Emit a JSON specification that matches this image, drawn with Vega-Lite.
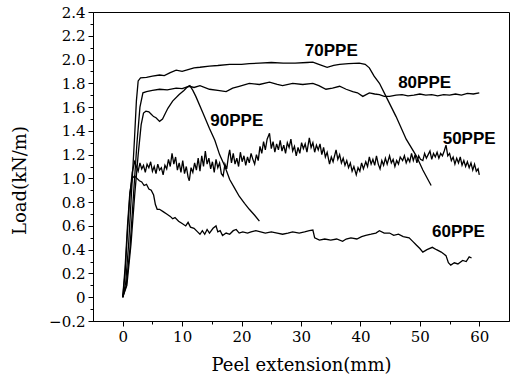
{
  "$schema": "https://vega.github.io/schema/vega-lite/v6.json",
  "width": 416,
  "height": 309,
  "autosize": {"type": "none"},
  "padding": {"left": 93, "top": 12, "right": 4, "bottom": 57},
  "background": "white",
  "config": {
    "view": {"stroke": "black", "strokeWidth": 1},
    "axis": {"grid": false, "domainColor": "black", "tickColor": "black", "labelColor": "black", "titleColor": "black", "labelFont": "DejaVu Serif", "titleFont": "DejaVu Serif", "labelFontSize": 15, "titleFontSize": 18, "titleFontWeight": "normal"}
  },
  "datasets": {
    "curves": [
      {"s":"50PPE","x":0,"y":0},{"s":"50PPE","x":0.4,"y":0.2},{"s":"50PPE","x":0.8,"y":0.55},{"s":"50PPE","x":1.2,"y":0.85},{"s":"50PPE","x":1.6,"y":1.05},{"s":"50PPE","x":2.0,"y":1.14},
      {"s":"50PPE","x":2.3,"y":1.10},{"s":"50PPE","x":2.6,"y":1.06},{"s":"50PPE","x":2.9,"y":1.13},{"s":"50PPE","x":3.2,"y":1.08},{"s":"50PPE","x":3.5,"y":1.11},{"s":"50PPE","x":3.8,"y":1.05},{"s":"50PPE","x":4.1,"y":1.12},{"s":"50PPE","x":4.4,"y":1.09},{"s":"50PPE","x":4.7,"y":1.14},{"s":"50PPE","x":5.0,"y":1.06},{"s":"50PPE","x":5.3,"y":1.10},{"s":"50PPE","x":5.6,"y":1.04},{"s":"50PPE","x":5.9,"y":1.12},{"s":"50PPE","x":6.2,"y":1.07},{"s":"50PPE","x":6.5,"y":1.09},{"s":"50PPE","x":6.8,"y":1.03},{"s":"50PPE","x":7.1,"y":1.11},{"s":"50PPE","x":7.4,"y":1.08},{"s":"50PPE","x":7.7,"y":1.16},{"s":"50PPE","x":8.0,"y":1.10},{"s":"50PPE","x":8.3,"y":1.21},{"s":"50PPE","x":8.6,"y":1.12},{"s":"50PPE","x":8.9,"y":1.18},{"s":"50PPE","x":9.2,"y":1.07},{"s":"50PPE","x":9.5,"y":1.13},{"s":"50PPE","x":9.8,"y":1.05},{"s":"50PPE","x":10.1,"y":1.15},{"s":"50PPE","x":10.4,"y":1.04},{"s":"50PPE","x":10.7,"y":1.10},{"s":"50PPE","x":11.0,"y":1.01},{"s":"50PPE","x":11.2,"y":0.98},{"s":"50PPE","x":11.5,"y":1.09},{"s":"50PPE","x":11.8,"y":1.05},{"s":"50PPE","x":12.1,"y":1.13},{"s":"50PPE","x":12.4,"y":1.07},{"s":"50PPE","x":12.7,"y":1.17},{"s":"50PPE","x":13.0,"y":1.06},{"s":"50PPE","x":13.3,"y":1.19},{"s":"50PPE","x":13.6,"y":1.10},{"s":"50PPE","x":13.9,"y":1.23},{"s":"50PPE","x":14.2,"y":1.12},{"s":"50PPE","x":14.5,"y":1.17},{"s":"50PPE","x":14.8,"y":1.08},{"s":"50PPE","x":15.1,"y":1.14},{"s":"50PPE","x":15.4,"y":1.05},{"s":"50PPE","x":15.7,"y":1.16},{"s":"50PPE","x":16.0,"y":1.09},{"s":"50PPE","x":16.3,"y":1.13},{"s":"50PPE","x":16.6,"y":1.04},{"s":"50PPE","x":16.9,"y":1.02},{"s":"50PPE","x":17.2,"y":1.12},{"s":"50PPE","x":17.5,"y":1.08},{"s":"50PPE","x":17.8,"y":1.19},{"s":"50PPE","x":18.0,"y":1.24},{"s":"50PPE","x":18.3,"y":1.13},{"s":"50PPE","x":18.6,"y":1.21},{"s":"50PPE","x":18.9,"y":1.12},{"s":"50PPE","x":19.2,"y":1.17},{"s":"50PPE","x":19.5,"y":1.10},{"s":"50PPE","x":19.8,"y":1.22},{"s":"50PPE","x":20.1,"y":1.14},{"s":"50PPE","x":20.4,"y":1.19},{"s":"50PPE","x":20.7,"y":1.11},{"s":"50PPE","x":21.0,"y":1.18},{"s":"50PPE","x":21.3,"y":1.13},{"s":"50PPE","x":21.6,"y":1.21},{"s":"50PPE","x":21.9,"y":1.16},{"s":"50PPE","x":22.2,"y":1.12},{"s":"50PPE","x":22.5,"y":1.20},{"s":"50PPE","x":22.8,"y":1.15},{"s":"50PPE","x":23.1,"y":1.27},{"s":"50PPE","x":23.4,"y":1.21},{"s":"50PPE","x":23.7,"y":1.31},{"s":"50PPE","x":24.0,"y":1.24},{"s":"50PPE","x":24.3,"y":1.33},{"s":"50PPE","x":24.7,"y":1.38},{"s":"50PPE","x":25.0,"y":1.25},{"s":"50PPE","x":25.3,"y":1.31},{"s":"50PPE","x":25.6,"y":1.22},{"s":"50PPE","x":25.9,"y":1.29},{"s":"50PPE","x":26.2,"y":1.24},{"s":"50PPE","x":26.5,"y":1.32},{"s":"50PPE","x":26.8,"y":1.23},{"s":"50PPE","x":27.1,"y":1.28},{"s":"50PPE","x":27.4,"y":1.21},{"s":"50PPE","x":27.7,"y":1.30},{"s":"50PPE","x":28.0,"y":1.26},{"s":"50PPE","x":28.3,"y":1.33},{"s":"50PPE","x":28.6,"y":1.23},{"s":"50PPE","x":28.9,"y":1.27},{"s":"50PPE","x":29.2,"y":1.19},{"s":"50PPE","x":29.5,"y":1.26},{"s":"50PPE","x":29.8,"y":1.21},{"s":"50PPE","x":30.1,"y":1.30},{"s":"50PPE","x":30.4,"y":1.25},{"s":"50PPE","x":30.7,"y":1.29},{"s":"50PPE","x":31.0,"y":1.22},{"s":"50PPE","x":31.4,"y":1.34},{"s":"50PPE","x":31.7,"y":1.26},{"s":"50PPE","x":32.0,"y":1.30},{"s":"50PPE","x":32.3,"y":1.22},{"s":"50PPE","x":32.6,"y":1.28},{"s":"50PPE","x":32.9,"y":1.24},{"s":"50PPE","x":33.2,"y":1.29},{"s":"50PPE","x":33.5,"y":1.20},{"s":"50PPE","x":33.8,"y":1.26},{"s":"50PPE","x":34.1,"y":1.18},{"s":"50PPE","x":34.4,"y":1.22},{"s":"50PPE","x":34.8,"y":1.12},{"s":"50PPE","x":35.1,"y":1.18},{"s":"50PPE","x":35.4,"y":1.14},{"s":"50PPE","x":35.9,"y":1.24},{"s":"50PPE","x":36.2,"y":1.16},{"s":"50PPE","x":36.5,"y":1.20},{"s":"50PPE","x":36.8,"y":1.13},{"s":"50PPE","x":37.1,"y":1.17},{"s":"50PPE","x":37.4,"y":1.11},{"s":"50PPE","x":37.7,"y":1.15},{"s":"50PPE","x":38.0,"y":1.09},{"s":"50PPE","x":38.3,"y":1.13},{"s":"50PPE","x":38.6,"y":1.06},{"s":"50PPE","x":38.9,"y":1.10},{"s":"50PPE","x":39.3,"y":1.03},{"s":"50PPE","x":39.6,"y":1.09},{"s":"50PPE","x":39.9,"y":1.06},{"s":"50PPE","x":40.2,"y":1.13},{"s":"50PPE","x":40.5,"y":1.08},{"s":"50PPE","x":40.9,"y":1.14},{"s":"50PPE","x":41.2,"y":1.10},{"s":"50PPE","x":41.5,"y":1.18},{"s":"50PPE","x":41.8,"y":1.12},{"s":"50PPE","x":42.1,"y":1.16},{"s":"50PPE","x":42.4,"y":1.11},{"s":"50PPE","x":42.7,"y":1.19},{"s":"50PPE","x":43.0,"y":1.12},{"s":"50PPE","x":43.3,"y":1.08},{"s":"50PPE","x":43.6,"y":1.15},{"s":"50PPE","x":43.9,"y":1.11},{"s":"50PPE","x":44.2,"y":1.17},{"s":"50PPE","x":44.5,"y":1.12},{"s":"50PPE","x":44.9,"y":1.19},{"s":"50PPE","x":45.2,"y":1.13},{"s":"50PPE","x":45.5,"y":1.16},{"s":"50PPE","x":45.8,"y":1.10},{"s":"50PPE","x":46.1,"y":1.15},{"s":"50PPE","x":46.4,"y":1.12},{"s":"50PPE","x":46.7,"y":1.18},{"s":"50PPE","x":47.1,"y":1.15},{"s":"50PPE","x":47.4,"y":1.19},{"s":"50PPE","x":47.7,"y":1.13},{"s":"50PPE","x":48.0,"y":1.17},{"s":"50PPE","x":48.3,"y":1.14},{"s":"50PPE","x":48.6,"y":1.21},{"s":"50PPE","x":48.9,"y":1.15},{"s":"50PPE","x":49.2,"y":1.20},{"s":"50PPE","x":49.5,"y":1.13},{"s":"50PPE","x":49.8,"y":1.19},{"s":"50PPE","x":50.1,"y":1.16},{"s":"50PPE","x":50.5,"y":1.15},{"s":"50PPE","x":50.8,"y":1.21},{"s":"50PPE","x":51.1,"y":1.17},{"s":"50PPE","x":51.4,"y":1.20},{"s":"50PPE","x":51.7,"y":1.23},{"s":"50PPE","x":52.0,"y":1.16},{"s":"50PPE","x":52.3,"y":1.21},{"s":"50PPE","x":52.6,"y":1.18},{"s":"50PPE","x":52.9,"y":1.22},{"s":"50PPE","x":53.2,"y":1.17},{"s":"50PPE","x":53.5,"y":1.21},{"s":"50PPE","x":53.8,"y":1.19},{"s":"50PPE","x":54.1,"y":1.23},{"s":"50PPE","x":54.4,"y":1.28},{"s":"50PPE","x":54.7,"y":1.19},{"s":"50PPE","x":55.0,"y":1.21},{"s":"50PPE","x":55.3,"y":1.15},{"s":"50PPE","x":55.6,"y":1.18},{"s":"50PPE","x":55.9,"y":1.12},{"s":"50PPE","x":56.2,"y":1.17},{"s":"50PPE","x":56.5,"y":1.13},{"s":"50PPE","x":56.8,"y":1.18},{"s":"50PPE","x":57.1,"y":1.11},{"s":"50PPE","x":57.4,"y":1.15},{"s":"50PPE","x":57.7,"y":1.10},{"s":"50PPE","x":58.0,"y":1.14},{"s":"50PPE","x":58.3,"y":1.09},{"s":"50PPE","x":58.6,"y":1.13},{"s":"50PPE","x":58.9,"y":1.07},{"s":"50PPE","x":59.2,"y":1.12},{"s":"50PPE","x":59.5,"y":1.06},{"s":"50PPE","x":59.8,"y":1.08},{"s":"50PPE","x":60.0,"y":1.03},
      {"s":"60PPE","x":0,"y":0},{"s":"60PPE","x":0.4,"y":0.25},{"s":"60PPE","x":0.8,"y":0.6},{"s":"60PPE","x":1.2,"y":0.88},{"s":"60PPE","x":1.6,"y":1.0},{"s":"60PPE","x":2.0,"y":1.02},{"s":"60PPE","x":2.4,"y":1.0},{"s":"60PPE","x":2.8,"y":0.98},{"s":"60PPE","x":3.2,"y":0.97},{"s":"60PPE","x":3.6,"y":0.94},{"s":"60PPE","x":4.0,"y":0.95},{"s":"60PPE","x":4.4,"y":0.91},{"s":"60PPE","x":4.8,"y":0.9},{"s":"60PPE","x":5.2,"y":0.86},{"s":"60PPE","x":5.5,"y":0.78},{"s":"60PPE","x":5.8,"y":0.74},{"s":"60PPE","x":6.2,"y":0.74},{"s":"60PPE","x":6.8,"y":0.72},{"s":"60PPE","x":7.4,"y":0.70},{"s":"60PPE","x":8.0,"y":0.68},{"s":"60PPE","x":8.4,"y":0.66},{"s":"60PPE","x":8.8,"y":0.67},{"s":"60PPE","x":9.4,"y":0.64},{"s":"60PPE","x":10.0,"y":0.62},{"s":"60PPE","x":10.6,"y":0.60},{"s":"60PPE","x":11.0,"y":0.63},{"s":"60PPE","x":11.4,"y":0.59},{"s":"60PPE","x":12.0,"y":0.58},{"s":"60PPE","x":12.6,"y":0.55},{"s":"60PPE","x":13.0,"y":0.53},{"s":"60PPE","x":13.4,"y":0.56},{"s":"60PPE","x":13.8,"y":0.53},{"s":"60PPE","x":14.2,"y":0.57},{"s":"60PPE","x":14.6,"y":0.54},{"s":"60PPE","x":15.2,"y":0.58},{"s":"60PPE","x":15.7,"y":0.60},{"s":"60PPE","x":16.0,"y":0.55},{"s":"60PPE","x":16.4,"y":0.56},{"s":"60PPE","x":16.8,"y":0.52},{"s":"60PPE","x":17.4,"y":0.54},{"s":"60PPE","x":18.0,"y":0.53},{"s":"60PPE","x":18.6,"y":0.56},{"s":"60PPE","x":19.1,"y":0.57},{"s":"60PPE","x":19.6,"y":0.54},{"s":"60PPE","x":20.2,"y":0.55},{"s":"60PPE","x":21.0,"y":0.54},{"s":"60PPE","x":21.6,"y":0.55},{"s":"60PPE","x":22.4,"y":0.56},{"s":"60PPE","x":23.2,"y":0.55},{"s":"60PPE","x":24.0,"y":0.54},{"s":"60PPE","x":25.0,"y":0.55},{"s":"60PPE","x":26.0,"y":0.54},{"s":"60PPE","x":26.9,"y":0.53},{"s":"60PPE","x":27.8,"y":0.54},{"s":"60PPE","x":28.6,"y":0.55},{"s":"60PPE","x":29.7,"y":0.54},{"s":"60PPE","x":30.6,"y":0.55},{"s":"60PPE","x":31.4,"y":0.56},{"s":"60PPE","x":32.0,"y":0.565},{"s":"60PPE","x":32.3,"y":0.50},{"s":"60PPE","x":33.1,"y":0.48},{"s":"60PPE","x":34.0,"y":0.49},{"s":"60PPE","x":35.0,"y":0.48},{"s":"60PPE","x":36.0,"y":0.49},{"s":"60PPE","x":37.0,"y":0.47},{"s":"60PPE","x":37.6,"y":0.49},{"s":"60PPE","x":38.4,"y":0.50},{"s":"60PPE","x":39.4,"y":0.49},{"s":"60PPE","x":40.2,"y":0.51},{"s":"60PPE","x":40.9,"y":0.52},{"s":"60PPE","x":41.8,"y":0.53},{"s":"60PPE","x":42.6,"y":0.54},{"s":"60PPE","x":43.2,"y":0.56},{"s":"60PPE","x":44.0,"y":0.54},{"s":"60PPE","x":44.9,"y":0.54},{"s":"60PPE","x":45.6,"y":0.52},{"s":"60PPE","x":46.4,"y":0.53},{"s":"60PPE","x":47.2,"y":0.51},{"s":"60PPE","x":48.2,"y":0.50},{"s":"60PPE","x":48.8,"y":0.47},{"s":"60PPE","x":49.4,"y":0.44},{"s":"60PPE","x":50.0,"y":0.41},{"s":"60PPE","x":50.5,"y":0.38},{"s":"60PPE","x":51.2,"y":0.40},{"s":"60PPE","x":52.1,"y":0.42},{"s":"60PPE","x":52.8,"y":0.40},{"s":"60PPE","x":53.6,"y":0.38},{"s":"60PPE","x":54.4,"y":0.35},{"s":"60PPE","x":54.8,"y":0.29},{"s":"60PPE","x":55.2,"y":0.27},{"s":"60PPE","x":55.8,"y":0.29},{"s":"60PPE","x":56.4,"y":0.28},{"s":"60PPE","x":57.2,"y":0.31},{"s":"60PPE","x":57.8,"y":0.30},{"s":"60PPE","x":58.3,"y":0.34},{"s":"60PPE","x":58.7,"y":0.33},
      {"s":"70PPE","x":0,"y":0},{"s":"70PPE","x":0.5,"y":0.12},{"s":"70PPE","x":1.0,"y":0.45},{"s":"70PPE","x":1.5,"y":0.9},{"s":"70PPE","x":2.0,"y":1.35},{"s":"70PPE","x":2.3,"y":1.65},{"s":"70PPE","x":2.6,"y":1.82},{"s":"70PPE","x":3.0,"y":1.845},{"s":"70PPE","x":4.0,"y":1.85},{"s":"70PPE","x":5.0,"y":1.86},{"s":"70PPE","x":6.2,"y":1.87},{"s":"70PPE","x":7.0,"y":1.865},{"s":"70PPE","x":8.0,"y":1.89},{"s":"70PPE","x":9.0,"y":1.91},{"s":"70PPE","x":10,"y":1.9},{"s":"70PPE","x":11,"y":1.915},{"s":"70PPE","x":12,"y":1.93},{"s":"70PPE","x":13,"y":1.935},{"s":"70PPE","x":14.6,"y":1.945},{"s":"70PPE","x":16,"y":1.95},{"s":"70PPE","x":18,"y":1.96},{"s":"70PPE","x":20,"y":1.96},{"s":"70PPE","x":21.3,"y":1.965},{"s":"70PPE","x":23,"y":1.97},{"s":"70PPE","x":25,"y":1.975},{"s":"70PPE","x":27,"y":1.97},{"s":"70PPE","x":29,"y":1.97},{"s":"70PPE","x":31,"y":1.975},{"s":"70PPE","x":32,"y":1.978},{"s":"70PPE","x":33,"y":1.96},{"s":"70PPE","x":34.4,"y":1.935},{"s":"70PPE","x":35.5,"y":1.95},{"s":"70PPE","x":36.5,"y":1.96},{"s":"70PPE","x":38,"y":1.965},{"s":"70PPE","x":39.8,"y":1.97},{"s":"70PPE","x":40.8,"y":1.96},{"s":"70PPE","x":41.5,"y":1.93},{"s":"70PPE","x":42.3,"y":1.86},{"s":"70PPE","x":43.2,"y":1.8},{"s":"70PPE","x":44.3,"y":1.69},{"s":"70PPE","x":46,"y":1.52},{"s":"70PPE","x":47.7,"y":1.33},{"s":"70PPE","x":49.4,"y":1.19},{"s":"70PPE","x":50.5,"y":1.07},{"s":"70PPE","x":51.9,"y":0.94},
      {"s":"80PPE","x":0,"y":0},{"s":"80PPE","x":0.6,"y":0.1},{"s":"80PPE","x":1.2,"y":0.4},{"s":"80PPE","x":1.8,"y":0.85},{"s":"80PPE","x":2.4,"y":1.3},{"s":"80PPE","x":2.9,"y":1.6},{"s":"80PPE","x":3.4,"y":1.72},{"s":"80PPE","x":4.0,"y":1.73},{"s":"80PPE","x":5,"y":1.74},{"s":"80PPE","x":6.2,"y":1.75},{"s":"80PPE","x":7.5,"y":1.745},{"s":"80PPE","x":9,"y":1.76},{"s":"80PPE","x":10,"y":1.755},{"s":"80PPE","x":11.2,"y":1.775},{"s":"80PPE","x":12,"y":1.765},{"s":"80PPE","x":13,"y":1.78},{"s":"80PPE","x":14.6,"y":1.75},{"s":"80PPE","x":16,"y":1.74},{"s":"80PPE","x":17.4,"y":1.73},{"s":"80PPE","x":18.5,"y":1.76},{"s":"80PPE","x":19.6,"y":1.775},{"s":"80PPE","x":21.3,"y":1.80},{"s":"80PPE","x":23,"y":1.79},{"s":"80PPE","x":24.7,"y":1.81},{"s":"80PPE","x":26,"y":1.79},{"s":"80PPE","x":26.9,"y":1.78},{"s":"80PPE","x":28.6,"y":1.80},{"s":"80PPE","x":30.3,"y":1.79},{"s":"80PPE","x":32,"y":1.80},{"s":"80PPE","x":33,"y":1.78},{"s":"80PPE","x":34.2,"y":1.75},{"s":"80PPE","x":35.3,"y":1.76},{"s":"80PPE","x":36.5,"y":1.775},{"s":"80PPE","x":37.6,"y":1.75},{"s":"80PPE","x":38.7,"y":1.73},{"s":"80PPE","x":39.5,"y":1.72},{"s":"80PPE","x":40.4,"y":1.69},{"s":"80PPE","x":41.5,"y":1.72},{"s":"80PPE","x":42.4,"y":1.71},{"s":"80PPE","x":43.2,"y":1.705},{"s":"80PPE","x":44.0,"y":1.69},{"s":"80PPE","x":44.9,"y":1.69},{"s":"80PPE","x":46,"y":1.70},{"s":"80PPE","x":47,"y":1.705},{"s":"80PPE","x":48,"y":1.695},{"s":"80PPE","x":49,"y":1.70},{"s":"80PPE","x":50,"y":1.71},{"s":"80PPE","x":51,"y":1.70},{"s":"80PPE","x":52,"y":1.705},{"s":"80PPE","x":53,"y":1.695},{"s":"80PPE","x":54,"y":1.705},{"s":"80PPE","x":55,"y":1.70},{"s":"80PPE","x":56,"y":1.71},{"s":"80PPE","x":57,"y":1.70},{"s":"80PPE","x":58,"y":1.715},{"s":"80PPE","x":59,"y":1.71},{"s":"80PPE","x":60,"y":1.72},
      {"s":"90PPE","x":0,"y":0},{"s":"90PPE","x":0.7,"y":0.1},{"s":"90PPE","x":1.4,"y":0.45},{"s":"90PPE","x":2.0,"y":0.85},{"s":"90PPE","x":2.6,"y":1.2},{"s":"90PPE","x":3.1,"y":1.45},{"s":"90PPE","x":3.5,"y":1.55},{"s":"90PPE","x":3.9,"y":1.565},{"s":"90PPE","x":4.4,"y":1.56},{"s":"90PPE","x":4.8,"y":1.54},{"s":"90PPE","x":5.2,"y":1.52},{"s":"90PPE","x":5.6,"y":1.51},{"s":"90PPE","x":6.2,"y":1.48},{"s":"90PPE","x":6.7,"y":1.50},{"s":"90PPE","x":7.2,"y":1.55},{"s":"90PPE","x":7.6,"y":1.59},{"s":"90PPE","x":8.4,"y":1.65},{"s":"90PPE","x":9.5,"y":1.705},{"s":"90PPE","x":10.3,"y":1.74},{"s":"90PPE","x":10.9,"y":1.77},{"s":"90PPE","x":11.3,"y":1.78},{"s":"90PPE","x":11.8,"y":1.74},{"s":"90PPE","x":12.3,"y":1.69},{"s":"90PPE","x":13.5,"y":1.55},{"s":"90PPE","x":14.6,"y":1.42},{"s":"90PPE","x":15.5,"y":1.32},{"s":"90PPE","x":16.3,"y":1.20},{"s":"90PPE","x":17.2,"y":1.10},{"s":"90PPE","x":18,"y":0.99},{"s":"90PPE","x":18.8,"y":0.92},{"s":"90PPE","x":19.6,"y":0.85},{"s":"90PPE","x":20.5,"y":0.79},{"s":"90PPE","x":21.3,"y":0.74},{"s":"90PPE","x":22.2,"y":0.69},{"s":"90PPE","x":23,"y":0.64}
    ],
    "labels": [
      {"t":"70PPE","x":35.1,"y":2.075},
      {"t":"80PPE","x":50.8,"y":1.80},
      {"t":"90PPE","x":19.2,"y":1.48},
      {"t":"50PPE","x":58.3,"y":1.335},
      {"t":"60PPE","x":56.5,"y":0.548}
    ]
  },
  "encoding": {
    "x": {"field": "x", "type": "quantitative", "scale": {"domain": [-5, 65], "nice": false, "zero": false},
      "axis": {"title": "Peel extension(mm)", "values": [0,5,10,15,20,25,30,35,40,45,50,55,60], "labelExpr": "datum.value % 10 == 0 ? datum.label : ''", "tickSize": {"condition": {"test": "datum.value % 10 == 0", "value": 5}, "value": 3}, "labelPadding": 3, "titleY": 44, "titleBaseline": "middle"}},
    "y": {"field": "y", "type": "quantitative", "scale": {"domain": [-0.2, 2.4], "nice": false, "zero": false},
      "axis": {"title": "Load(kN/m)", "values": [-0.2,-0.1,0,0.1,0.2,0.3,0.4,0.5,0.6,0.7,0.8,0.9,1,1.1,1.2,1.3,1.4,1.5,1.6,1.7,1.8,1.9,2,2.1,2.2,2.3,2.4], "labelExpr": "abs(round(datum.value*10)) % 2 == 0 ? (datum.value == 0 ? '0' : format(datum.value, '.1f')) : ''", "tickSize": {"condition": {"test": "abs(round(datum.value*10)) % 2 == 0", "value": 5}, "value": 3}, "labelPadding": 3, "titleX": -73, "titleY": 168, "titleBaseline": "middle", "titleAngle": -90}}
  },
  "layer": [
    {"data": {"name": "curves"}, "mark": {"type": "line", "color": "black", "strokeWidth": 1.3},
      "encoding": {"detail": {"field": "s", "type": "nominal"}}},
    {"data": {"name": "labels"}, "mark": {"type": "text", "font": "Liberation Sans", "fontWeight": "bold", "fontSize": 17, "color": "black", "baseline": "middle", "align": "center"},
      "encoding": {"text": {"field": "t", "type": "nominal"}}}
  ]
}
